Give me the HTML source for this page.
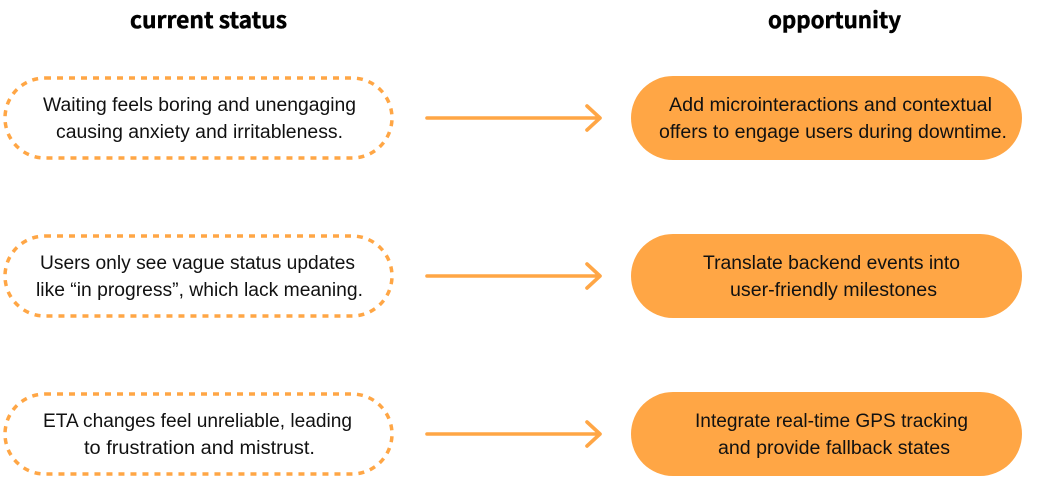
<!DOCTYPE html>
<html><head><meta charset="utf-8"><style>
html,body{margin:0;padding:0;background:#fff;width:1041px;height:496px;overflow:hidden}
svg{display:block}
.t{font:19px "Liberation Sans",sans-serif;fill:#111}
.h{font:bold 22px "Noto Sans CJK SC",sans-serif;fill:#000;stroke:#000;stroke-width:.5}
.d{fill:none;stroke:#FFA645;stroke-width:3.5;stroke-dasharray:6 6}
.f{fill:#FFA645}
.l{fill:none;stroke:#FFA645;stroke-width:3.6;stroke-linecap:round;stroke-linejoin:round}
</style></head><body>
<svg width="1041" height="496" viewBox="0 0 1041 496" xmlns="http://www.w3.org/2000/svg">
<text class="h" x="130" y="28" textLength="157" lengthAdjust="spacingAndGlyphs">current status</text>
<text class="h" x="768" y="28" textLength="133" lengthAdjust="spacingAndGlyphs">opportunity</text>

<rect class="d" x="5" y="78" width="387" height="80" rx="40"/>
<rect class="d" x="5" y="236" width="387" height="80" rx="40"/>
<rect class="d" x="5" y="394" width="387" height="80" rx="40"/>

<rect class="f" x="631" y="76" width="391" height="84" rx="42"/>
<rect class="f" x="631" y="234" width="391" height="84" rx="42"/>
<rect class="f" x="631" y="392" width="391" height="84" rx="42"/>

<path class="l" d="M427 118H600M587 106L600 118L587 130"/>
<path class="l" d="M427 276H600M587 264L600 276L587 288"/>
<path class="l" d="M427 434H600M587 422L600 434L587 446"/>

<text class="t" x="43" y="111" textLength="313" lengthAdjust="spacingAndGlyphs">Waiting feels boring and unengaging</text>
<text class="t" x="56" y="138" textLength="287" lengthAdjust="spacingAndGlyphs">causing anxiety and irritableness.</text>
<text class="t" x="40" y="269" textLength="315" lengthAdjust="spacingAndGlyphs">Users only see vague status updates</text>
<text class="t" x="36" y="296" textLength="327" lengthAdjust="spacingAndGlyphs">like “in progress”, which lack meaning.</text>
<text class="t" x="43" y="427" textLength="309" lengthAdjust="spacingAndGlyphs">ETA changes feel unreliable, leading</text>
<text class="t" x="84" y="454" textLength="231" lengthAdjust="spacingAndGlyphs">to frustration and mistrust.</text>

<text class="t" x="669" y="111" textLength="323" lengthAdjust="spacingAndGlyphs">Add microinteractions and contextual</text>
<text class="t" x="659" y="138" textLength="348" lengthAdjust="spacingAndGlyphs">offers to engage users during downtime.</text>
<text class="t" x="703" y="269" textLength="257" lengthAdjust="spacingAndGlyphs">Translate backend events into</text>
<text class="t" x="730" y="296" textLength="207" lengthAdjust="spacingAndGlyphs">user-friendly milestones</text>
<text class="t" x="695" y="427" textLength="273" lengthAdjust="spacingAndGlyphs">Integrate real-time GPS tracking</text>
<text class="t" x="718" y="454" textLength="232" lengthAdjust="spacingAndGlyphs">and provide fallback states</text>
</svg>
</body></html>
